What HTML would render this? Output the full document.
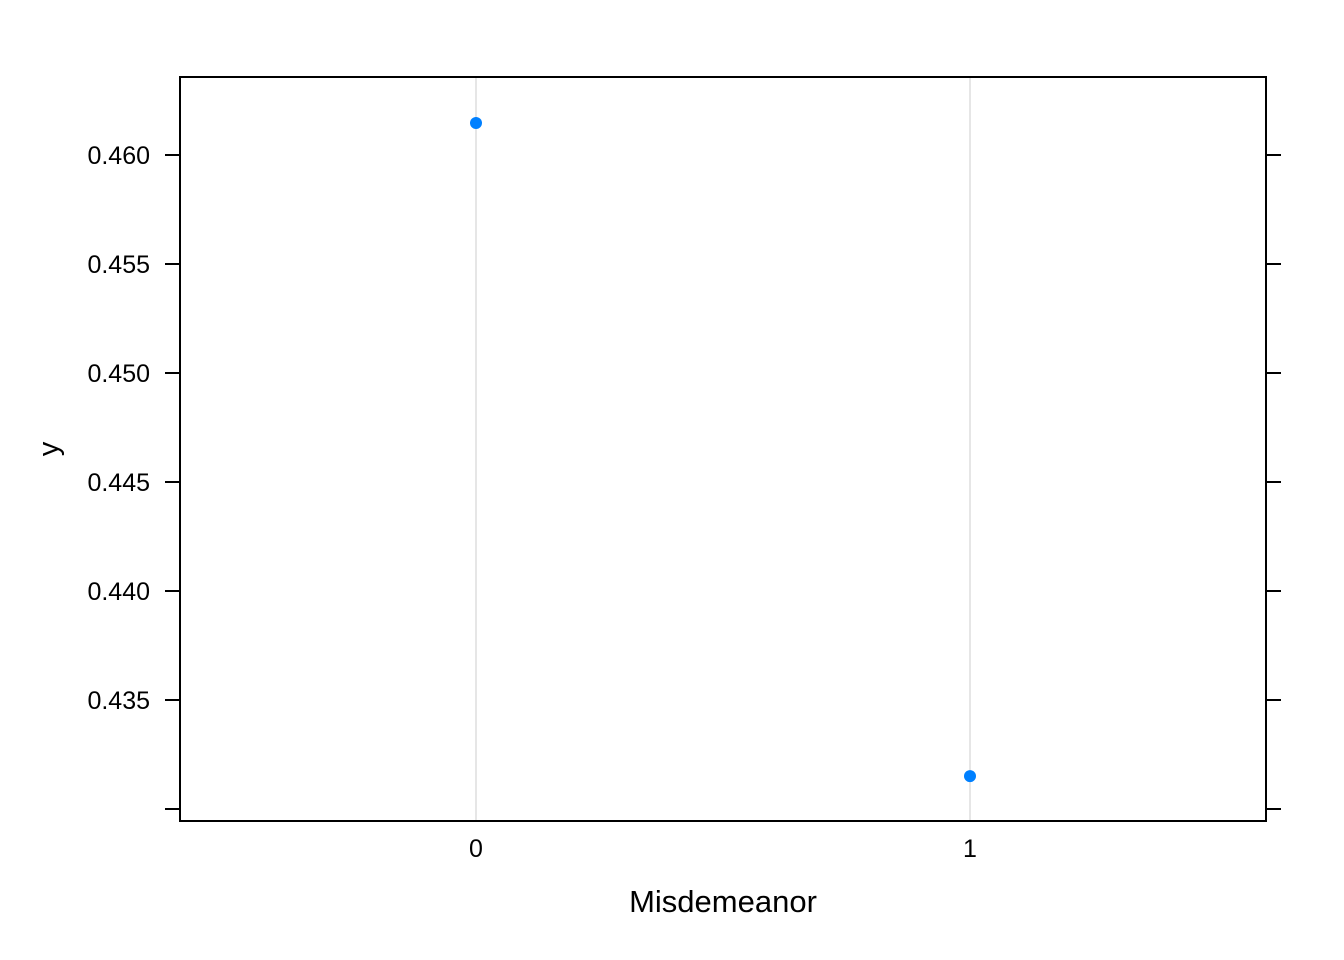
<!DOCTYPE html>
<html><head><meta charset="utf-8"><style>body{margin:0;background:#fff}svg{display:block}</style></head>
<body>
<svg width="1344" height="960" xmlns="http://www.w3.org/2000/svg" font-family="Liberation Sans, Arial, sans-serif">
<g id="grid"></g>
<rect x="180" y="77" width="1086" height="744" fill="none" stroke="#000" stroke-width="2"/>
<g id="yt"></g>
<g id="xt"></g>
<g id="pts"></g>
<text x="723" y="912" font-size="31" text-anchor="middle">Misdemeanor</text>
<text transform="translate(58,449) rotate(-90)" font-size="29" text-anchor="middle">y</text>
<script>
const categories=["0","1"];
const values=[0.46147,0.43151];
const yTicks=[0.430,0.435,0.440,0.445,0.450,0.455,0.460];
const yLabels=["","0.435","0.440","0.445","0.450","0.455","0.460"];
const NS="http://www.w3.org/2000/svg";
const ys=v=>155+(0.460-v)*21800;
const xs=i=>476+i*494;
const yt=document.getElementById('yt'),xt=document.getElementById('xt'),g=document.getElementById('grid'),pts=document.getElementById('pts');
function mk(tag,attrs,parent){const e=document.createElementNS(NS,tag);for(const k in attrs)e.setAttribute(k,attrs[k]);parent.appendChild(e);return e;}
yTicks.forEach((t,i)=>{const y=ys(t);
 const a=mk('line',{x1:165,x2:180,y1:y,y2:y,stroke:'#000','stroke-width':2},yt);
 
 
 const b=mk('line',{x1:1266,x2:1281,y1:y,y2:y,stroke:'#000','stroke-width':2},yt);
 
 
 if(yLabels[i]){const tx=mk('text',{x:150,y:y+9,'font-size':25,'text-anchor':'end'},yt);tx.textContent=yLabels[i];
 
 }
});
categories.forEach((c,i)=>{const x=xs(i);
 const l=mk('line',{x1:x,x2:x,y1:78,y2:820,stroke:'#e6e6e6','stroke-width':2},g);
 
 
 const tx=mk('text',{x:x,y:857,'font-size':25,'text-anchor':'middle'},xt);tx.textContent=c;
 
 
 const p=mk('circle',{cx:x,cy:ys(values[i]),r:6,fill:'#0080ff'},pts);
 
 
});
</script>
</svg>
</body></html>
